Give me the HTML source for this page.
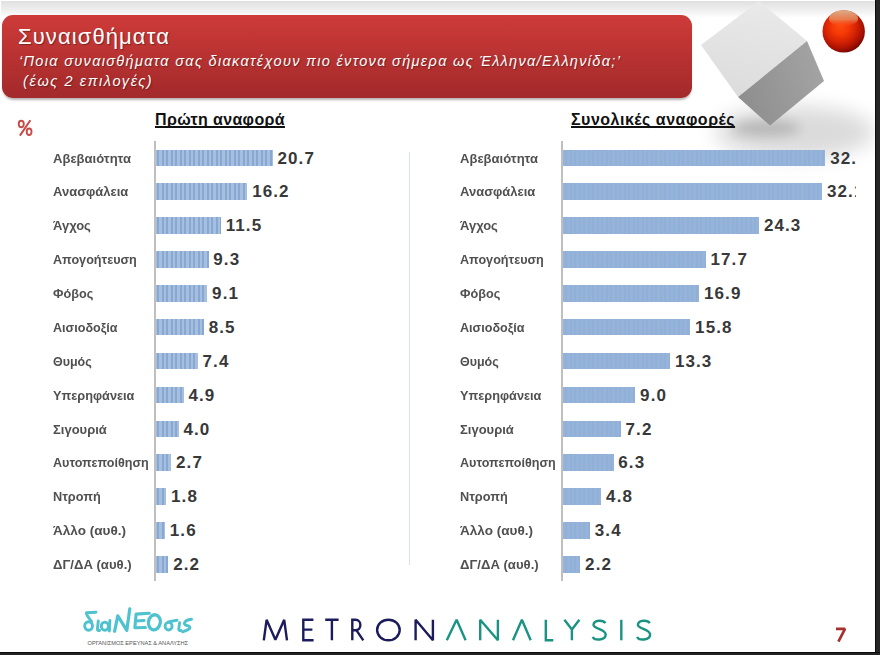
<!DOCTYPE html>
<html><head><meta charset="utf-8"><style>
*{margin:0;padding:0;box-sizing:border-box}
html,body{width:880px;height:655px;overflow:hidden;background:#fff}
body{position:relative;font-family:"Liberation Sans",sans-serif}
.abs{position:absolute}
#topband{position:absolute;left:1px;top:1px;width:874px;height:16px;background:linear-gradient(#e0e0e0,#f0f0f0 60%,#fdfdfd)}
#redbox{position:absolute;left:2px;top:14.5px;width:690px;height:83px;border-radius:11px;background:linear-gradient(#cd3b39,#a3292a);box-shadow:0 2.5px 2.5px -1px rgba(0,0,0,0.3)}
#title{position:absolute;left:18px;top:24px;font-size:22px;letter-spacing:1.1px;color:#fff;white-space:nowrap;text-shadow:1px 1px 1px rgba(0,0,0,0.35)}
#sub1{position:absolute;left:19px;top:54.3px;line-height:1;font-size:14.5px;font-style:italic;letter-spacing:1.32px;color:#fff;white-space:nowrap;text-shadow:1px 1px 1px rgba(0,0,0,0.35)}
#sub2{position:absolute;left:23px;top:74.1px;line-height:1;font-size:14.5px;font-style:italic;letter-spacing:1.59px;color:#fff;white-space:nowrap;text-shadow:1px 1px 1px rgba(0,0,0,0.35)}
#pct{position:absolute;left:17px;top:117px;font-size:17px;font-weight:bold;color:#c0504d}
.hdr{position:absolute;font-size:16px;font-weight:bold;color:#111;text-decoration:underline;text-decoration-skip-ink:none;text-decoration-thickness:1.6px;text-underline-offset:1px;white-space:nowrap;letter-spacing:0.35px}
.lab{position:absolute;font-size:13.5px;font-weight:bold;color:#505050;white-space:nowrap;line-height:17px;transform-origin:0 0}
.val{position:absolute;font-size:17px;font-weight:bold;color:#383838;white-space:nowrap;letter-spacing:1.1px;line-height:20px}
.bar{position:absolute;height:16.5px}
.lb{background:repeating-linear-gradient(90deg,#a6bfdf 0,#a6bfdf 1.2px,#88a8d4 1.2px,#88a8d4 3.2px,#a6bfdf 3.2px,#a6bfdf 4.5px)}
.rb{background:repeating-linear-gradient(90deg,#96b4da 0,#96b4da 2.2px,#91b0d7 2.2px,#91b0d7 4.5px)}
.axis{position:absolute;width:1.8px;background:#bfbfbf}
#rightclip{position:absolute;left:0;top:0;width:856px;height:655px;overflow:hidden}
#divider{position:absolute;left:408.5px;top:152px;width:1.6px;height:413px;background:#d6e2f0}
#rborder{position:absolute;left:875px;top:0;width:5px;height:655px;background:linear-gradient(90deg,#0c0c0c 0,#0c0c0c 1.4px,#262626 1.4px)}
#bborder{position:absolute;left:0;top:651.8px;width:880px;height:3.2px;background:linear-gradient(#0c0c0c 0,#0c0c0c 1.5px,#232323 1.5px)}
#pnum{position:absolute;left:834.5px;top:624px;font-size:20px;font-weight:bold;color:#a8302e}
</style></head><body>
<div id="topband"></div>
<svg class="abs" style="left:0;top:0" width="875" height="220">
<defs>
<linearGradient id="lf" x1="0.5" y1="0" x2="0.3" y2="1"><stop offset="0" stop-color="#e9e9e9"/><stop offset="1" stop-color="#dcdcdc"/></linearGradient>
<linearGradient id="df" x1="0" y1="0.6" x2="1" y2="0.3"><stop offset="0" stop-color="#8e8e8e"/><stop offset="1" stop-color="#a4a4a4"/></linearGradient>
<radialGradient id="sph" cx="0.42" cy="0.38" r="0.66"><stop offset="0" stop-color="#ff4a10"/><stop offset="0.3" stop-color="#f43806"/><stop offset="0.6" stop-color="#d02004"/><stop offset="0.82" stop-color="#a51002"/><stop offset="1" stop-color="#6a0602"/></radialGradient>
<linearGradient id="sphhl" x1="0" y1="0" x2="0" y2="1"><stop offset="0" stop-color="#dcae88" stop-opacity="1"/><stop offset="0.55" stop-color="#e89468" stop-opacity="0.75"/><stop offset="1" stop-color="#ff5020" stop-opacity="0"/></linearGradient>
<filter id="blur" x="-50%" y="-80%" width="200%" height="260%"><feGaussianBlur stdDeviation="10"/></filter>
<filter id="blur2" x="-50%" y="-100%" width="200%" height="300%"><feGaussianBlur stdDeviation="6"/></filter>
</defs>
<ellipse cx="795" cy="132" rx="80" ry="26" fill="#000" opacity="0.14" filter="url(#blur)"/>
<ellipse cx="766" cy="128" rx="34" ry="8" fill="#000" opacity="0.16" filter="url(#blur2)"/>
<polygon points="759,1 807,41 738,97 701,45" fill="url(#lf)"/>
<polygon points="807,41 824,81 770,125.5 738,97" fill="url(#df)"/>
<circle cx="843.7" cy="31.4" r="21.2" fill="url(#sph)"/>
<ellipse cx="843.5" cy="18.5" rx="14.5" ry="8.2" fill="url(#sphhl)"/>
</svg>
<div id="redbox"></div>
<div id="title">Συναισθήματα</div>
<div id="sub1">‘Ποια συναισθήματα σας διακατέχουν πιο έντονα σήμερα ως Έλληνα/Ελληνίδα;’</div>
<div id="sub2">(έως 2 επιλογές)</div>
<svg class="abs" style="left:0;top:100px" width="60" height="50"><g fill="none" stroke="#c84a48" stroke-width="1.9"><ellipse cx="21.25" cy="24" rx="2.5" ry="3.2"/><ellipse cx="29.1" cy="31.75" rx="2.4" ry="3.2"/><path d="M30.4,20.3 L19.9,35.6" stroke-width="2"/></g></svg>
<div class="hdr" id="h1" style="left:155px;top:110.5px">Πρώτη αναφορά</div>
<div class="hdr" id="h2" style="left:571px;top:110.5px;letter-spacing:0.5px">Συνολικές αναφορές</div>
<div id="divider"></div>
<div class="axis" style="left:154.2px;top:141px;height:440px"></div>
<div class="axis" style="left:561px;top:141px;height:440px"></div>
<div id="rightclip">
<div class="lab" style="left:53px;top:149.50px;transform:scaleX(0.9668)">Αβεβαιότητα</div>
<div class="bar lb" style="left:156px;top:149.50px;width:116.7px"></div>
<div class="val" style="left:277.5px;top:148.50px">20.7</div>
<div class="lab" style="left:460px;top:149.50px;transform:scaleX(0.9668)">Αβεβαιότητα</div>
<div class="bar rb" style="left:562.5px;top:149.50px;width:262.9px"></div>
<div class="val" style="left:830.2px;top:148.50px">32.5</div>
<div class="lab" style="left:53px;top:183.38px;transform:scaleX(0.963)">Ανασφάλεια</div>
<div class="bar lb" style="left:156px;top:183.38px;width:91.4px"></div>
<div class="val" style="left:252.2px;top:182.38px">16.2</div>
<div class="lab" style="left:460px;top:183.38px;transform:scaleX(0.963)">Ανασφάλεια</div>
<div class="bar rb" style="left:562.5px;top:183.38px;width:259.7px"></div>
<div class="val" style="left:827.0px;top:182.38px">32.1</div>
<div class="lab" style="left:53px;top:217.25px;transform:scaleX(0.963)">Άγχος</div>
<div class="bar lb" style="left:156px;top:217.25px;width:64.9px"></div>
<div class="val" style="left:225.7px;top:216.25px">11.5</div>
<div class="lab" style="left:460px;top:217.25px;transform:scaleX(0.963)">Άγχος</div>
<div class="bar rb" style="left:562.5px;top:217.25px;width:196.6px"></div>
<div class="val" style="left:763.9px;top:216.25px">24.3</div>
<div class="lab" style="left:53px;top:251.12px;transform:scaleX(0.9341)">Απογοήτευση</div>
<div class="bar lb" style="left:156px;top:251.12px;width:52.5px"></div>
<div class="val" style="left:213.3px;top:250.12px">9.3</div>
<div class="lab" style="left:460px;top:251.12px;transform:scaleX(0.9341)">Απογοήτευση</div>
<div class="bar rb" style="left:562.5px;top:251.12px;width:143.2px"></div>
<div class="val" style="left:710.5px;top:250.12px">17.7</div>
<div class="lab" style="left:53px;top:285.00px;transform:scaleX(0.9399)">Φόβος</div>
<div class="bar lb" style="left:156px;top:285.00px;width:51.3px"></div>
<div class="val" style="left:212.1px;top:284.00px">9.1</div>
<div class="lab" style="left:460px;top:285.00px;transform:scaleX(0.9399)">Φόβος</div>
<div class="bar rb" style="left:562.5px;top:285.00px;width:136.7px"></div>
<div class="val" style="left:704.0px;top:284.00px">16.9</div>
<div class="lab" style="left:53px;top:318.88px;transform:scaleX(0.9331)">Αισιοδοξία</div>
<div class="bar lb" style="left:156px;top:318.88px;width:47.9px"></div>
<div class="val" style="left:208.7px;top:317.88px">8.5</div>
<div class="lab" style="left:460px;top:318.88px;transform:scaleX(0.9331)">Αισιοδοξία</div>
<div class="bar rb" style="left:562.5px;top:318.88px;width:127.8px"></div>
<div class="val" style="left:695.1px;top:317.88px">15.8</div>
<div class="lab" style="left:53px;top:352.75px;transform:scaleX(0.9244)">Θυμός</div>
<div class="bar lb" style="left:156px;top:352.75px;width:41.7px"></div>
<div class="val" style="left:202.5px;top:351.75px">7.4</div>
<div class="lab" style="left:460px;top:352.75px;transform:scaleX(0.9244)">Θυμός</div>
<div class="bar rb" style="left:562.5px;top:352.75px;width:107.6px"></div>
<div class="val" style="left:674.9px;top:351.75px">13.3</div>
<div class="lab" style="left:53px;top:386.62px;transform:scaleX(0.9437)">Υπερηφάνεια</div>
<div class="bar lb" style="left:156px;top:386.62px;width:27.6px"></div>
<div class="val" style="left:188.4px;top:385.62px">4.9</div>
<div class="lab" style="left:460px;top:386.62px;transform:scaleX(0.9437)">Υπερηφάνεια</div>
<div class="bar rb" style="left:562.5px;top:386.62px;width:72.8px"></div>
<div class="val" style="left:640.1px;top:385.62px">9.0</div>
<div class="lab" style="left:53px;top:420.50px;transform:scaleX(0.963)">Σιγουριά</div>
<div class="bar lb" style="left:156px;top:420.50px;width:22.6px"></div>
<div class="val" style="left:183.4px;top:419.50px">4.0</div>
<div class="lab" style="left:460px;top:420.50px;transform:scaleX(0.963)">Σιγουριά</div>
<div class="bar rb" style="left:562.5px;top:420.50px;width:58.2px"></div>
<div class="val" style="left:625.5px;top:419.50px">7.2</div>
<div class="lab" style="left:53px;top:454.38px;transform:scaleX(0.9302)">Αυτοπεποίθηση</div>
<div class="bar lb" style="left:156px;top:454.38px;width:15.2px"></div>
<div class="val" style="left:176.0px;top:453.38px">2.7</div>
<div class="lab" style="left:460px;top:454.38px;transform:scaleX(0.9302)">Αυτοπεποίθηση</div>
<div class="bar rb" style="left:562.5px;top:454.38px;width:51.0px"></div>
<div class="val" style="left:618.3px;top:453.38px">6.3</div>
<div class="lab" style="left:53px;top:488.25px;transform:scaleX(0.9427)">Ντροπή</div>
<div class="bar lb" style="left:156px;top:488.25px;width:10.2px"></div>
<div class="val" style="left:171.0px;top:487.25px">1.8</div>
<div class="lab" style="left:460px;top:488.25px;transform:scaleX(0.9427)">Ντροπή</div>
<div class="bar rb" style="left:562.5px;top:488.25px;width:38.8px"></div>
<div class="val" style="left:606.1px;top:487.25px">4.8</div>
<div class="lab" style="left:53px;top:522.12px;transform:scaleX(1.0044)">Άλλο (αυθ.)</div>
<div class="bar lb" style="left:156px;top:522.12px;width:9.0px"></div>
<div class="val" style="left:169.8px;top:521.12px">1.6</div>
<div class="lab" style="left:460px;top:522.12px;transform:scaleX(1.0044)">Άλλο (αυθ.)</div>
<div class="bar rb" style="left:562.5px;top:522.12px;width:27.5px"></div>
<div class="val" style="left:594.8px;top:521.12px">3.4</div>
<div class="lab" style="left:53px;top:556.00px;transform:scaleX(0.9716)">ΔΓ/ΔΑ (αυθ.)</div>
<div class="bar lb" style="left:156px;top:556.00px;width:12.4px"></div>
<div class="val" style="left:173.2px;top:555.00px">2.2</div>
<div class="lab" style="left:460px;top:556.00px;transform:scaleX(0.9716)">ΔΓ/ΔΑ (αυθ.)</div>
<div class="bar rb" style="left:562.5px;top:556.00px;width:17.8px"></div>
<div class="val" style="left:585.1px;top:555.00px">2.2</div>
</div>
<svg class="abs" style="left:0;top:0" width="880" height="655">
<g fill="none" stroke="#4fc2cf" stroke-width="2.9" stroke-linecap="round" stroke-linejoin="round">
<path d="M96,612.2 L86.5,612.8 C86,616 90,618.5 91.5,621.5"/>
<ellipse cx="88.6" cy="626" rx="3.9" ry="4.2"/>
<path d="M98.3,621 L97.4,629.2 Q97.6,631 99.6,630.4"/>
<ellipse cx="104.9" cy="626.2" rx="3.6" ry="4.1"/>
<path d="M109.9,620.5 L109.4,631"/>
<path d="M114.6,631.3 L117.8,615.8 L126.8,630.4 L129.8,608.8" stroke-width="3.2"/>
<path d="M149.2,613.3 L136.1,614.1 L134.9,627.7 L145.4,627.5 M135.6,621 L144,620.5" stroke-width="3.1"/>
<ellipse cx="154.4" cy="622.3" rx="5.9" ry="7.6" stroke-width="3.3" transform="rotate(10 154.4 622.3)"/>
<ellipse cx="168.6" cy="626.2" rx="3.5" ry="3.8"/>
<path d="M168.3,621.9 L177,620.3"/>
<path d="M179.6,622.6 L178.7,629.4 Q178.9,631 181,630.4"/>
<path d="M191.5,619.3 Q185.5,620 184.4,623.2 Q184.2,625.4 188.8,626 Q191.4,627.6 188.2,629.6 L182.6,631.8"/>
</g>
<text x="87.6" y="645.3" font-family="Liberation Sans" font-size="4.6" fill="#555" textLength="100.5" lengthAdjust="spacingAndGlyphs">ΟΡΓΑΝΙΣΜΟΣ ΕΡΕΥΝΑΣ &amp; ΑΝΑΛΥΣΗΣ</text>
<g fill="none" stroke="#1c1c5c" stroke-width="2.4" stroke-linejoin="miter" stroke-miterlimit="1.5" stroke-linecap="butt">
<path d="M263.8,640.3 L266.6,619.8 L275.4,639.8 L284.2,619.8 L287,640.3"/>
<path d="M313.4,619.8 L303.3,619.8 L303.3,640.3 L313.6,640.3 M303.3,629.6 L312.4,629.6"/>
<path d="M325.2,619.8 L338.6,619.8 M331.9,619.8 L331.9,640.3"/>
<path d="M352.3,640.3 L352.3,619.8 L355.5,619.8 C362,619.8 362,630.3 355.5,630.3 L352.3,630.3 M356.5,630.3 L363.3,640.3"/>
<ellipse cx="388.4" cy="630" rx="11.3" ry="10.3"/>
<path d="M415.6,640.3 L415.6,619.8 L432.9,640.3 L432.9,619.8"/>
</g>
<g fill="none" stroke="#1a9383" stroke-width="2.4" stroke-linejoin="miter" stroke-miterlimit="1.5">
<path d="M446.8,640.3 L456.6,619.8 L465.6,640.3"/>
<path d="M480.2,640.3 L480.2,619.8 L497.9,640.3 L497.9,619.8"/>
<path d="M513,640.3 L521.9,619.8 L530.7,640.3"/>
<path d="M545.8,619.8 L545.8,640.3 L553.3,640.3"/>
<path d="M564.4,619.8 L571.9,629.4 L579.4,619.8 M571.9,629.4 L571.9,640.3"/>
<path d="M605.4,623.1 C603.6,620.0 594.1,619.4 593.5,624.7 C593.5,629.0 605.7,629.0 605.7,634.6 C605.7,640.7 594.1,640.7 592.8,636.8"/>
<path d="M621.3,619.8 L621.3,640.3"/>
<path d="M649.8,623.1 C648.0,620.0 638.5,619.4 637.9,624.7 C637.9,629.0 650.1,629.0 650.1,634.6 C650.1,640.7 638.5,640.7 637.2,636.8"/>
</g>
</svg>
<svg class="abs" style="left:820px;top:615px" width="40" height="35"><path d="M16,13.9 L25,13.9 L18.4,26.6" fill="none" stroke="#a8302e" stroke-width="2.7" stroke-linejoin="miter" stroke-miterlimit="1.6"/></svg>
<div id="rborder"></div>
<div id="bborder"></div>
</body></html>
